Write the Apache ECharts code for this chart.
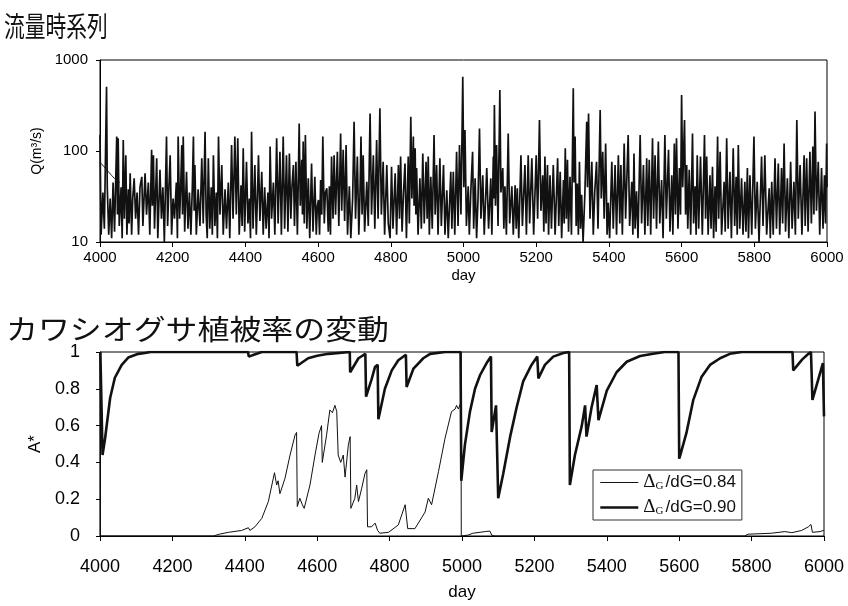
<!DOCTYPE html>
<html><head><meta charset="utf-8">
<script src="https://cdn.jsdelivr.net/npm/echarts@6/dist/echarts.min.js"></script>
<style>html,body{margin:0;padding:0;background:#fff}#c{width:848px;height:606px}</style>
</head><body><div id="c"></div>
<script>
const flowTitle = '流量時系列';
const coverTitle = 'カワシオグサ植被率の変動';
const flowAxisName = 'Q(m³/s)';
const coverAxisName = 'A*';
const dayAxisName = 'day';
const legendValues = ['0.84', '0.90'];

// daily discharge (day, m3/s) - peaks and troughs
const flowQ = [
[4000,150],[4003,12],[4008,35],[4012,14],[4018,509],[4020,40],[4024,12],[4028,30],[4032,11],[4036,45],[4040,13],[4046,144],[4048,20],[4050,138],[4053,15],[4058,40],[4061,11],[4064,132],[4067,18],[4071,90],[4074,12],[4078,38],[4080,16],[4083,57],[4087,12],[4090,30],[4094,50],[4098,18],[4102,35],[4106,12],[4110,40],[4115,52],[4118,15],[4124,57],[4128,20],[4133,45],[4137,12],[4142,103],[4144,25],[4147,90],[4150,14],[4156,83],[4159,11],[4165,62],[4169,18],[4173,40],[4177,10],[4183,144],[4186,15],[4189,35],[4193,90],[4197,12],[4201,30],[4205,18],[4210,45],[4213,11],[4215,144],[4219,18],[4222,40],[4225,116],[4227,20],[4229,144],[4233,13],[4238,59],[4242,14],[4246,35],[4250,12],[4254,40],[4257,144],[4259,22],[4261,70],[4265,12],[4270,38],[4275,15],[4280,83],[4284,16],[4289,163],[4292,20],[4295,11],[4298,83],[4302,14],[4306,40],[4309,12],[4312,90],[4316,15],[4320,35],[4323,11],[4326,144],[4330,20],[4335,70],[4339,12],[4344,38],[4348,14],[4353,45],[4357,11],[4362,116],[4366,18],[4371,144],[4375,20],[4379,138],[4383,12],[4388,42],[4391,15],[4394,107],[4398,13],[4403,76],[4407,16],[4411,30],[4414,11],[4417,163],[4421,14],[4426,70],[4430,12],[4433,30],[4436,90],[4440,17],[4445,59],[4449,12],[4453,40],[4457,14],[4462,35],[4465,11],[4468,112],[4472,18],[4477,45],[4481,12],[4486,138],[4490,16],[4495,98],[4499,12],[4504,144],
[4508,14],[4513,90],[4517,13],[4521,94],[4525,18],[4528,40],[4532,70],[4535,15],[4539,76],[4543,12],[4548,201],[4551,25],[4555,80],[4557,20],[4559,127],[4562,16],[4565,150],[4569,14],[4573,50],[4577,11],[4582,73],[4586,13],[4591,52],[4595,12],[4598,25],[4601,29],[4604,12],[4607,48],[4610,20],[4613,144],[4617,16],[4620,35],[4624,39],[4628,13],[4631,41],[4634,12],[4637,87],[4641,18],[4644,90],[4648,20],[4653,98],[4657,15],[4662,156],[4665,22],[4669,103],[4673,17],[4677,116],[4681,12],[4686,41],[4690,11],[4695,30],[4699,210],[4703,18],[4708,87],[4712,12],[4715,30],[4718,144],[4721,20],[4724,90],[4728,13],[4734,46],[4738,15],[4743,259],[4747,20],[4752,90],[4756,14],[4761,132],[4765,18],[4770,294],[4774,20],[4779,76],[4783,12],[4789,70],[4793,16],[4798,11],[4802,67],[4806,14],[4812,57],[4816,12],[4821,70],[4824,18],[4827,87],[4831,13],[4835,35],[4839,73],[4843,11],[4848,87],[4851,16],[4855,238],[4858,30],[4862,144],[4864,25],[4867,107],[4869,20],[4871,65],[4875,12],[4880,50],[4884,14],[4888,94],[4892,16],[4897,76],[4900,18],[4903,87],[4906,12],[4910,52],[4914,14],[4919,150],[4922,20],[4926,70],[4930,12],[4935,83],[4939,15],[4945,70],[4949,12],[4954,37],[4958,11],[4965,59],[4968,14],[4972,59],[4976,12],[4981,98],[4985,15],[4989,116],[4993,20],[4998,656],
[5001,40],[5004,170],[5008,15],[5013,41],[5016,12],[5020,35],[5025,98],[5028,14],[5032,50],[5036,11],[5040,30],[5044,177],[5048,18],[5053,54],[5057,12],[5064,65],[5069,14],[5075,50],[5078,12],[5082,87],[5083,30],[5085,320],[5088,25],[5091,116],[5095,15],[5100,468],[5103,35],[5108,65],[5111,14],[5114,41],[5118,12],[5123,156],[5127,16],[5133,41],[5137,12],[5142,42],[5145,14],[5148,39],[5152,11],[5158,90],[5162,15],[5169,70],[5173,12],[5178,90],[5182,16],[5188,83],[5193,12],[5200,90],[5204,18],[5209,219],[5213,22],[5218,54],[5221,13],[5224,87],[5227,16],[5231,70],[5234,12],[5238,54],[5242,14],[5247,70],[5252,12],[5259,83],[5262,15],[5266,59],[5270,11],[5275,48],[5277,16],[5280,107],[5283,18],[5286,80],[5289,13],[5293,52],[5297,12],[5302,489],[5304,45],[5307,144],[5310,15],[5313,44],[5316,12],[5319,76],[5322,14],[5325,33],[5329,10],[5334,35],[5339,210],[5341,40],[5344,259],[5348,18],[5353,76],[5357,12],[5361,35],[5366,76],[5370,14],[5376,282],[5379,30],[5383,98],[5387,18],[5391,121],[5395,12],[5398,27],[5402,11],[5408,76],[5412,14],[5417,70],[5421,12],[5426,90],[5430,16],[5433,70],[5437,12],[5442,121],[5446,18],[5453,150],[5457,15],[5463,46],[5466,12],[5469,94],[5472,14],[5476,36],[5480,11],[5486,150],[5490,16],[5495,70],[5499,12],[5504,83],[5507,15],[5511,80],
[5515,12],[5520,138],[5523,18],[5527,90],[5531,14],[5536,127],[5540,16],[5545,48],[5549,11],[5554,150],[5558,18],[5564,103],[5568,13],[5573,54],[5576,12],[5580,121],[5583,20],[5586,138],[5590,14],[5594,65],[5597,20],[5600,412],[5603,40],[5608,219],[5611,20],[5614,70],[5617,14],[5621,62],[5625,12],[5630,156],[5633,16],[5637,41],[5640,12],[5643,90],[5647,14],[5652,87],[5657,12],[5663,150],[5666,18],[5669,87],[5673,12],[5678,54],[5681,14],[5685,67],[5688,11],[5692,41],[5695,13],[5699,144],[5702,18],[5706,98],[5710,12],[5717,46],[5720,13],[5724,138],[5728,14],[5733,59],[5737,11],[5742,107],[5746,15],[5750,52],[5753,12],[5756,116],[5760,14],[5765,50],[5769,12],[5774,46],[5777,13],[5781,65],[5784,11],[5788,54],[5793,12],[5799,144],[5803,14],[5808,46],[5813,10],[5820,87],[5824,15],[5829,90],[5834,12],[5841,39],[5844,11],[5848,46],[5852,12],[5857,83],[5861,14],[5866,73],[5870,12],[5875,65],[5878,16],[5882,121],[5886,13],[5891,50],[5895,11],[5900,76],[5904,14],[5909,46],[5913,12],[5917,219],[5921,18],[5926,70],[5931,12],[5937,90],[5940,15],[5944,83],[5948,13],[5953,98],[5957,16],[5961,112],[5964,20],[5967,271],[5971,22],[5976,76],[5980,12],[5985,65],[5989,14],[5993,54],[5996,16],[5999,121],[6000,40]
];
// smooth recession line at the start of the flow plot
const flowRecession = [[4000,75],[4010,68],[4025,58],[4040,50],[4055,45]];

// cover ratio A*, ΔG/dG = 0.84 (thin)
const cover084 = [
[4000,1],[4001,0],[4313,0],[4330,0.01],[4355,0.02],[4391,0.03],[4410,0.045],[4414,0.03],[4428,0.05],[4447,0.096],[4465,0.187],[4482,0.344],[4488,0.277],[4492,0.30],[4497,0.23],[4511,0.313],[4525,0.44],[4539,0.55],[4543,0.563],[4545,0.16],[4552,0.205],[4559,0.17],[4564,0.15],[4580,0.277],[4594,0.44],[4605,0.558],[4612,0.60],[4614,0.40],[4626,0.55],[4635,0.685],[4642,0.67],[4649,0.71],[4654,0.676],[4658,0.44],[4665,0.40],[4672,0.44],[4677,0.32],[4686,0.495],[4691,0.54],[4693,0.15],[4704,0.205],[4709,0.277],[4714,0.187],[4723,0.26],[4732,0.34],[4737,0.36],[4739,0.05],[4750,0.05],[4760,0.07],[4767,0.03],[4773,0.015],[4797,0.02],[4824,0.06],[4843,0.17],[4847,0.178],[4850,0.04],[4870,0.04],[4898,0.13],[4907,0.205],[4916,0.17],[4935,0.35],[4953,0.53],[4971,0.676],[4981,0.69],[4985,0.71],[4990,0.69],[4996,0.72],[4997,1],[4998,0],[5017,0.005],[5030,0.015],[5064,0.024],[5077,0.027],[5080,0.027],[5082,0.005],[5090,0],[5780,0],[5791,0.01],[5855,0.015],[5892,0.024],[5911,0.018],[5938,0.03],[5957,0.05],[5964,0.063],[5968,0.02],[5989,0.024],[5998,0.03],[6000,0.03]
];
// cover ratio A*, ΔG/dG = 0.90 (thick)
const cover090 = [
[4001,1],[4007,0.44],[4009,0.45],[4014,0.53],[4028,0.75],[4041,0.86],[4060,0.93],[4078,0.97],[4106,0.99],[4124,0.995],[4140,1],[4220,1],[4225,0.99],[4240,1],[4276,1],[4280,0.99],[4304,1],[4409,1],[4411,0.975],[4425,0.985],[4447,1],[4543,1],[4545,0.925],[4575,0.966],[4600,0.98],[4631,0.99],[4690,1],[4691,0.89],[4714,0.966],[4733,0.99],[4735,0.757],[4750,0.85],[4760,0.92],[4767,0.93],[4769,0.635],[4787,0.80],[4806,0.90],[4824,0.955],[4845,0.985],[4847,0.81],[4866,0.91],[4893,0.966],[4912,0.99],[4953,1],[4996,1],[4998,0.3],[5008,0.495],[5022,0.676],[5036,0.80],[5050,0.875],[5068,0.94],[5080,0.975],[5082,0.565],[5094,0.71],[5100,0.205],[5114,0.34],[5133,0.54],[5151,0.70],[5169,0.84],[5192,0.93],[5208,0.975],[5211,0.857],[5229,0.93],[5252,0.975],[5280,0.995],[5296,1],[5298,0.277],[5312,0.44],[5331,0.60],[5340,0.71],[5344,0.54],[5358,0.70],[5372,0.82],[5377,0.63],[5400,0.79],[5427,0.89],[5455,0.947],[5492,0.978],[5528,0.99],[5560,1],[5565,0.99],[5575,1],[5598,1],[5600,0.42],[5603,0.44],[5620,0.56],[5639,0.74],[5662,0.866],[5685,0.93],[5713,0.966],[5740,0.99],[5773,1],[5913,1],[5915,0.90],[5940,0.96],[5957,0.99],[5964,1],[5968,0.74],[5984,0.85],[5997,0.94],[6000,0.65]
];

const SANS = '"Liberation Sans", Arial, sans-serif';
const SERIF = '"Liberation Serif", "Times New Roman", serif';
const CJK = '"Noto Sans CJK JP", sans-serif';
const plain = function (v) { return String(v); };
const THIN = 1, THICK = 2.6;

const chart = echarts.init(document.getElementById('c'), null, {renderer: 'canvas'});
const option = {
  animation: false,
  backgroundColor: '#fff',
  graphic: [
    {type: 'text', x: 4, y: 12, scaleX: 0.74, scaleY: 1,
     style: {text: flowTitle, fontFamily: CJK, fontSize: 28, fill: '#111', verticalAlign: 'top'}},
    {type: 'text', x: 6, y: 315, scaleX: 1.14, scaleY: 1,
     style: {text: coverTitle, fontFamily: CJK, fontSize: 28, fill: '#111', verticalAlign: 'top'}}
  ],
  grid: [
    {left: 100, right: 21, top: 60, height: 182, show: true, borderColor: '#000', borderWidth: 1},
    {left: 100, right: 24, top: 352, height: 184, show: true, borderColor: '#000', borderWidth: 1}
  ],
  legend: {
    left: 593, top: 470, orient: 'vertical',
    data: [
      {name: legendValues[0], lineStyle: {width: THIN, color: '#111'}},
      {name: legendValues[1], lineStyle: {width: THICK, color: '#111'}}
    ],
    itemWidth: 38, itemHeight: 12, itemGap: 6,
    padding: [3, 6, 3, 6],
    borderColor: '#333', borderWidth: 1, backgroundColor: '#fff',
    itemStyle: {color: 'transparent', borderWidth: 0, opacity: 0},
    formatter: function (name) { return '{d|Δ}{g|G}{t|/dG=' + name + '}'; },
    textStyle: {
      rich: {
        d: {fontFamily: SERIF, fontSize: 19, color: '#111'},
        g: {fontFamily: SERIF, fontSize: 11, color: '#111', verticalAlign: 'bottom', padding: [8, 2, 0, 0]},
        t: {fontFamily: SANS, fontSize: 17, color: '#111'}
      }
    }
  },
  xAxis: [
    {type: 'value', gridIndex: 0, min: 4000, max: 6000, interval: 200,
     name: dayAxisName, nameLocation: 'middle', nameGap: 26,
     nameTextStyle: {fontFamily: SANS, fontSize: 15, color: '#000'},
     axisLine: {lineStyle: {color: '#000', width: 1}},
     axisTick: {show: true, length: 5, lineStyle: {color: '#000'}},
     axisLabel: {fontFamily: SANS, fontSize: 15, color: '#000', margin: 8, formatter: plain},
     splitLine: {show: false}},
    {type: 'value', gridIndex: 1, min: 4000, max: 6000, interval: 200,
     name: dayAxisName, nameLocation: 'middle', nameGap: 48,
     nameTextStyle: {fontFamily: SANS, fontSize: 17, color: '#000'},
     axisLine: {lineStyle: {color: '#000', width: 1}},
     axisTick: {show: true, length: 5, lineStyle: {color: '#000'}},
     axisLabel: {fontFamily: SANS, fontSize: 18, color: '#000', margin: 22, formatter: plain},
     splitLine: {show: false}}
  ],
  yAxis: [
    {type: 'log', gridIndex: 0, logBase: 10, min: 10, max: 1000,
     name: flowAxisName, nameLocation: 'middle', nameGap: 56, nameRotate: 90,
     nameTextStyle: {fontFamily: SANS, fontSize: 14, color: '#000'},
     axisLine: {show: true, lineStyle: {color: '#000', width: 1}},
     axisTick: {show: true, length: 4, lineStyle: {color: '#000'}},
     axisLabel: {fontFamily: SANS, fontSize: 15, color: '#000', margin: 12, formatter: plain},
     splitLine: {show: false}, minorTick: {show: false}},
    {type: 'value', gridIndex: 1, min: 0, max: 1, interval: 0.2,
     name: coverAxisName, nameLocation: 'middle', nameGap: 56, nameRotate: 90,
     nameTextStyle: {fontFamily: SANS, fontSize: 17, color: '#000'},
     axisLine: {show: true, lineStyle: {color: '#000', width: 1}},
     axisTick: {show: true, length: 4, lineStyle: {color: '#000'}},
     axisLabel: {fontFamily: SANS, fontSize: 18, color: '#000', margin: 20},
     splitLine: {show: false}}
  ],
  series: [
    {type: 'line', name: 'flow', xAxisIndex: 0, yAxisIndex: 0, data: flowQ,
     symbol: 'none', lineStyle: {color: '#111', width: 1.7}, silent: true},
    {type: 'line', name: 'flowRecession', xAxisIndex: 0, yAxisIndex: 0, data: flowRecession,
     symbol: 'none', smooth: true, lineStyle: {color: '#111', width: 1}, silent: true},
    {type: 'line', name: legendValues[0], xAxisIndex: 1, yAxisIndex: 1, data: cover084,
     symbol: 'none', lineStyle: {color: '#111', width: THIN}, itemStyle: {color: '#111'}},
    {type: 'line', name: legendValues[1], xAxisIndex: 1, yAxisIndex: 1, data: cover090,
     symbol: 'none', lineStyle: {color: '#111', width: THICK}, itemStyle: {color: '#111'}}
  ]
};
chart.setOption(option);
</script></body></html>
